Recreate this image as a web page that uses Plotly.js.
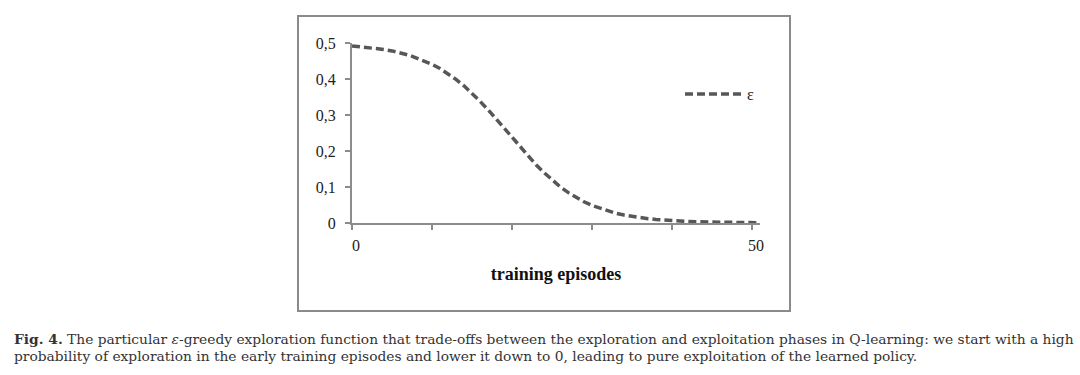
<!DOCTYPE html>
<html>
<head>
<meta charset="utf-8">
<script src="https://cdn.plot.ly/plotly-3.0.1.min.js"></script>
<style>
html,body{margin:0;padding:0;background:#fff;}
#chart{width:1080px;height:375px;}
</style>
</head>
<body>
<div id="chart"></div>
<script>
// training episodes (x) and epsilon values
const episodes = [0,1,2,3,4,5,6,7,8,9,10,11,12,13,14,15,16,17,18,19,20,21,22,23,24,25,26,27,28,29,30,31,32,33,34,35,36,37,38,39,40,41,42,43,44,45,46,47,48,49,50,51];
const epsilon = [0.492,0.490,0.488,0.485,0.482,0.478,0.473,0.467,0.459,0.451,0.441,0.429,0.415,0.399,0.381,0.361,0.338,0.315,0.289,0.263,0.237,0.211,0.186,0.162,0.140,0.119,0.101,0.085,0.071,0.059,0.049,0.041,0.033,0.027,0.022,0.018,0.015,0.012,0.010,0.008,0.0065,0.005,0.004,0.0035,0.003,0.0023,0.0019,0.0015,0.0012,0.001,0.0008,0.0006];
const seriesName = 'ε';
const xTickVals = [0,10,20,30,40,50];
const xTickText = ['0','','','','','50'];
const yTickVals = [0,0.1,0.2,0.3,0.4,0.5];
const yTickText = ['0','0,1','0,2','0,3','0,4','0,5'];
const xTitle = 'training episodes';
const captionLine1 = '<b>Fig. 4.</b> The particular <i>ε</i>-greedy exploration function that trade-offs between the exploration and exploitation phases in Q-learning: we start with a high';
const captionLine2 = 'probability of exploration in the early training episodes and lower it down to 0, leading to pure exploitation of the learned policy.';

// plot area geometry (px)
const L = 352, R = 760, T = 43, B = 223, W = 1080, H = 375;
const px = v => (v - L) / (R - L);
const py = v => (B - v) / (B - T);

const serif = 'Liberation Serif, Times New Roman, serif';

const trace = {
  x: episodes, y: epsilon, type: 'scatter', mode: 'lines', name: seriesName,
  line: {color: '#575757', width: 3.5, dash: '8px,4px'},
  hoverinfo: 'skip'
};

const axisLine = '#8c8c8c';
const layout = {
  width: W, height: H,
  margin: {l: L, r: W - R, t: T, b: H - B, pad: 0},
  paper_bgcolor: '#fff', plot_bgcolor: '#fff',
  showlegend: true,
  legend: {x: px(680), y: py(94), xanchor: 'left', yanchor: 'middle',
           font: {family: serif, size: 16, color: '#222'}, bgcolor: 'rgba(0,0,0,0)',
           itemwidth: 57, tracegroupgap: 0},
  xaxis: {range: [0, 51], tickvals: xTickVals, ticktext: xTickText,
          showgrid: false, zeroline: false, showline: true, linecolor: axisLine, linewidth: 2,
          ticks: 'outside', ticklen: 5, tickwidth: 1.5, tickcolor: axisLine,
          ticklabelshift: 4, ticklabelstandoff: 2,
          tickfont: {family: serif, size: 16, color: '#222'},
          title: {text: '<b>' + xTitle + '</b>', font: {family: serif, size: 18, color: '#111'}, standoff: 14},
          fixedrange: true},
  yaxis: {range: [0, 0.5], tickvals: yTickVals, ticktext: yTickText,
          showgrid: false, zeroline: false, showline: true, linecolor: axisLine, linewidth: 2,
          ticks: 'outside', ticklen: 5, tickwidth: 1.5, tickcolor: axisLine,
          ticklabelstandoff: 6,
          tickfont: {family: serif, size: 16, color: '#222'}, fixedrange: true},
  shapes: [{type: 'rect', xref: 'paper', yref: 'paper',
            x0: px(298), x1: px(790), y0: py(311), y1: py(16),
            line: {color: '#8a8a8a', width: 2}, fillcolor: 'rgba(0,0,0,0)', layer: 'below'}],
  annotations: [
    {xref: 'paper', yref: 'paper', x: px(12), y: py(339), xanchor: 'left', yanchor: 'middle',
     showarrow: false, text: captionLine1, font: {family: 'DejaVu Serif', size: 13.8, color: '#333'}},
    {xref: 'paper', yref: 'paper', x: px(12), y: py(356), xanchor: 'left', yanchor: 'middle',
     showarrow: false, text: captionLine2, font: {family: 'DejaVu Serif', size: 13.8, color: '#333'}}
  ]
};

Plotly.newPlot('chart', [trace], layout, {displayModeBar: false, staticPlot: true});
</script>
</body>
</html>
